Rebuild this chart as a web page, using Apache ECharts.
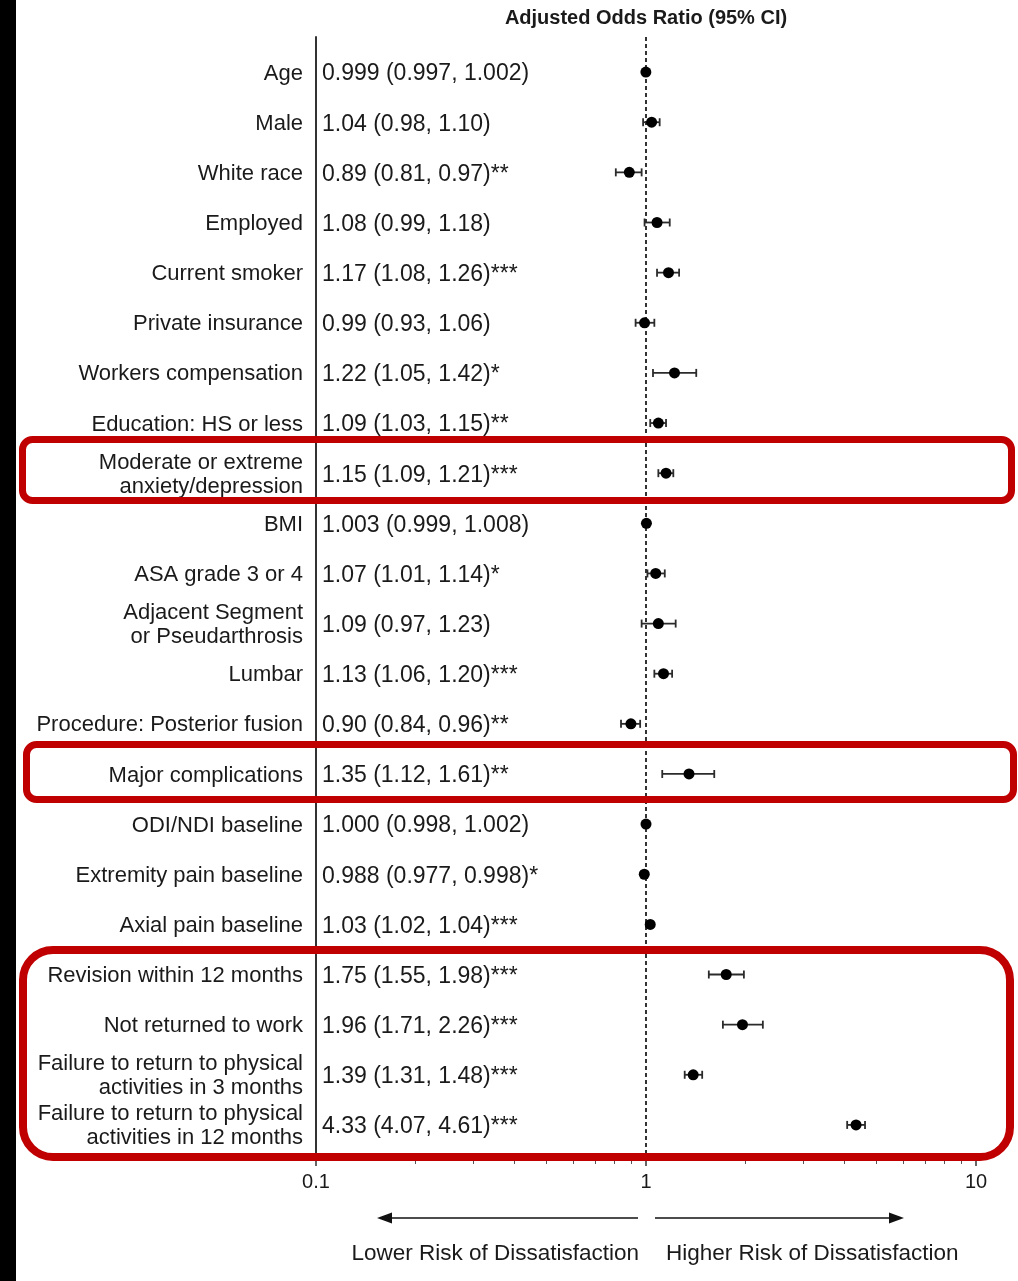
<!DOCTYPE html>
<html>
<head>
<meta charset="utf-8">
<script src="https://cdn.jsdelivr.net/npm/echarts@6/dist/echarts.min.js"></script>
<style>
  html, body { margin: 0; padding: 0; background: #ffffff; }
  #chart { width: 1018px; height: 1281px; }
</style>
</head>
<body>
<div id="chart"></div>
<script>
// Predictors, top to bottom
const rowLabels = [
  'Age', 'Male', 'White race', 'Employed', 'Current smoker', 'Private insurance',
  'Workers compensation', 'Education: HS or less', 'Moderate or extreme\nanxiety/depression',
  'BMI', 'ASA grade 3 or 4', 'Adjacent Segment\nor Pseudarthrosis', 'Lumbar',
  'Procedure: Posterior fusion', 'Major complications', 'ODI/NDI baseline',
  'Extremity pain baseline', 'Axial pain baseline', 'Revision within 12 months',
  'Not returned to work', 'Failure to return to physical\nactivities in 3 months',
  'Failure to return to physical\nactivities in 12 months'
];
// Adjusted odds ratios with 95% confidence limits
const oddsRatio = [0.999, 1.04, 0.89, 1.08, 1.17, 0.99, 1.22, 1.09, 1.15, 1.003, 1.07, 1.09, 1.13, 0.90, 1.35, 1.000, 0.988, 1.03, 1.75, 1.96, 1.39, 4.33];
const ciLower   = [0.997, 0.98, 0.81, 0.99, 1.08, 0.93, 1.05, 1.03, 1.09, 0.999, 1.01, 0.97, 1.06, 0.84, 1.12, 0.998, 0.977, 1.02, 1.55, 1.71, 1.31, 4.07];
const ciUpper   = [1.002, 1.10, 0.97, 1.18, 1.26, 1.06, 1.42, 1.15, 1.21, 1.008, 1.14, 1.23, 1.20, 0.96, 1.61, 1.002, 0.998, 1.04, 1.98, 2.26, 1.48, 4.61];
const decimals  = [3, 2, 2, 2, 2, 2, 2, 2, 2, 3, 2, 2, 2, 2, 2, 3, 3, 2, 2, 2, 2, 2];
const signif    = ['', '', '**', '', '***', '', '*', '**', '***', '', '*', '', '***', '**', '**', '', '*', '***', '***', '***', '***', '***'];
const xTickLabels = ['0.1', '1', '10'];

const FONT = '"Liberation Sans", Arial, sans-serif';
const INK = '#1a1a1a';
const RED = '#c00000';

function valueText(i) {
  const d = decimals[i];
  return oddsRatio[i].toFixed(d) + ' (' + ciLower[i].toFixed(d) + ', ' + ciUpper[i].toFixed(d) + ')' + signif[i];
}

const ciData = oddsRatio.map((v, i) => [v, i, ciLower[i], ciUpper[i]]);

function renderCI(params, api) {
  const row = api.value(1);
  const p = api.coord([api.value(0), row]);
  const a = api.coord([api.value(2), row]);
  const b = api.coord([api.value(3), row]);
  const cap = 4;
  const ls = { stroke: '#2b2b2b', lineWidth: 1.8 };
  return {
    type: 'group',
    children: [
      { type: 'line', shape: { x1: a[0], y1: a[1], x2: b[0], y2: b[1] }, style: ls },
      { type: 'line', shape: { x1: a[0], y1: a[1] - cap, x2: a[0], y2: a[1] + cap }, style: ls },
      { type: 'line', shape: { x1: b[0], y1: b[1] - cap, x2: b[0], y2: b[1] + cap }, style: ls },
      { type: 'circle', shape: { cx: p[0], cy: p[1], r: 5.5 }, style: { fill: '#000' } }
    ]
  };
}

function renderRowText(params, api) {
  const i = params.dataIndex;
  const base = api.coord([0.1, api.value(1)]);
  return {
    type: 'group',
    children: [
      { type: 'text', x: base[0] - 13, y: base[1] + 1.5,
        style: { text: rowLabels[i], align: 'right', verticalAlign: 'middle',
                 font: '22px ' + FONT, fill: INK, lineHeight: 24 } },
      { type: 'text', x: base[0] + 6, y: base[1] + 2,
        style: { text: valueText(i), align: 'left', verticalAlign: 'middle',
                 font: '23px ' + FONT, fill: INK } }
    ]
  };
}

const chart = echarts.init(document.getElementById('chart'), null, { renderer: 'canvas' });

chart.setOption({
  animation: false,
  backgroundColor: '#ffffff',
  grid: { left: 316, right: 42, top: 37, height: 1120, containLabel: false },
  xAxis: {
    type: 'log', logBase: 10, min: 0.1, max: 10,
    axisLine: { show: true, onZero: false, lineStyle: { color: '#222', width: 1.5 } },
    axisTick: { show: true, length: 9, lineStyle: { color: '#333', width: 1.5 } },
    minorTick: { show: true, splitNumber: 9, length: 7, lineStyle: { color: '#555', width: 1 } },
    splitLine: { show: false },
    axisLabel: {
      margin: 15, fontSize: 20, fontFamily: FONT, color: INK,
      formatter: v => xTickLabels.find(t => Math.abs(parseFloat(t) - v) < 1e-9) || ''
    }
  },
  yAxis: {
    type: 'value', inverse: true, min: -0.7, max: 21.64,
    axisLine: { show: true, onZero: false, lineStyle: { color: '#333', width: 2 } },
    axisTick: { show: false }, axisLabel: { show: false }, splitLine: { show: false }
  },
  series: [
    {
      type: 'custom', name: 'rows', clip: false,
      renderItem: renderRowText,
      data: ciData, encode: { x: 0, y: 1 }, silent: true, z: 3
    },
    {
      type: 'custom', name: 'AOR', clip: false,
      renderItem: renderCI,
      data: ciData, encode: { x: 0, y: 1 }, z: 5,
      markLine: {
        silent: true, symbol: ['none', 'none'], label: { show: false },
        lineStyle: { color: '#333', width: 2, type: [4, 3] },
        data: [{ xAxis: 1 }]
      }
    }
  ],
  graphic: [
    { type: 'rect', left: 0, top: 0, shape: { width: 16, height: 1281 }, style: { fill: '#000' }, z: 10 },
    { type: 'text', x: 646, y: 18, z: 10,
      style: { text: 'Adjusted Odds Ratio (95% CI)', align: 'center', verticalAlign: 'middle',
               font: 'bold 20px ' + FONT, fill: INK } },
    // highlight boxes
    { type: 'rect', shape: { x: 22.5, y: 439.5, width: 989, height: 61, r: 10 },
      style: { fill: 'none', stroke: RED, lineWidth: 7 }, z: 20 },
    { type: 'rect', shape: { x: 26.5, y: 744.5, width: 987, height: 55, r: 10 },
      style: { fill: 'none', stroke: RED, lineWidth: 7 }, z: 20 },
    { type: 'rect', shape: { x: 23, y: 950, width: 987, height: 207, r: 30 },
      style: { fill: 'none', stroke: RED, lineWidth: 8 }, z: 20 },
    // direction arrows
    { type: 'line', shape: { x1: 390, y1: 1218, x2: 638, y2: 1218 }, style: { stroke: '#111', lineWidth: 1.5 }, z: 10 },
    { type: 'polygon', shape: { points: [[377, 1218], [392, 1212.5], [392, 1223.5]] }, style: { fill: '#111' }, z: 10 },
    { type: 'line', shape: { x1: 655, y1: 1218, x2: 892, y2: 1218 }, style: { stroke: '#111', lineWidth: 1.5 }, z: 10 },
    { type: 'polygon', shape: { points: [[904, 1218], [889, 1212.5], [889, 1223.5]] }, style: { fill: '#111' }, z: 10 },
    { type: 'text', x: 639, y: 1254, z: 10,
      style: { text: 'Lower Risk of Dissatisfaction', align: 'right', verticalAlign: 'middle',
               font: '22.5px ' + FONT, fill: INK } },
    { type: 'text', x: 666, y: 1254, z: 10,
      style: { text: 'Higher Risk of Dissatisfaction', align: 'left', verticalAlign: 'middle',
               font: '22.5px ' + FONT, fill: INK } }
  ]
});
</script>
</body>
</html>
